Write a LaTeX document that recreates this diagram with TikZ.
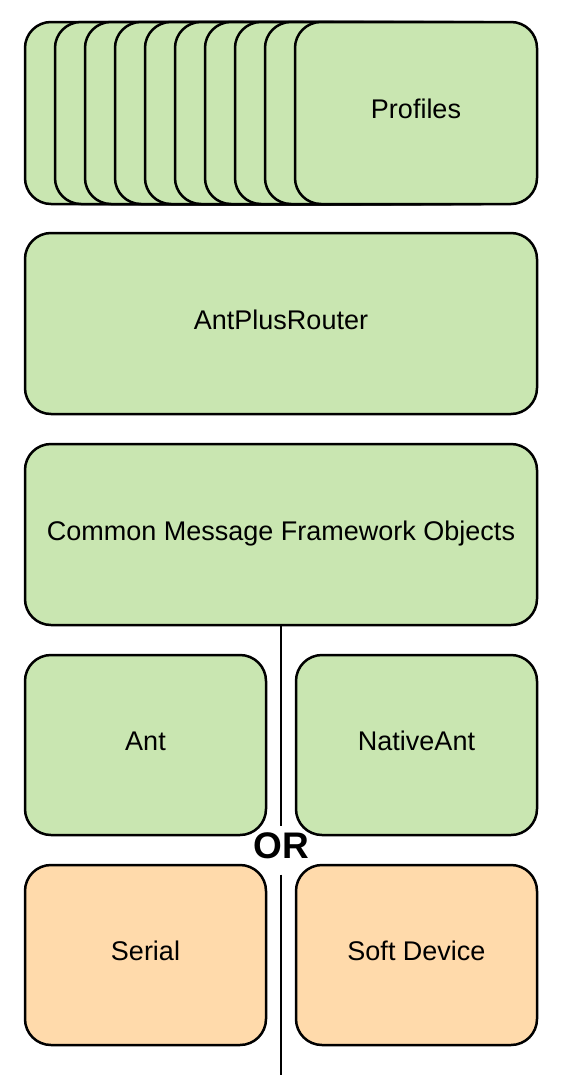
\documentclass[tikz,border=0pt]{standalone}
\usepackage{fontspec}
\setmainfont{Liberation Sans}
\definecolor{greenfill}{HTML}{C9E6B1}
\definecolor{orangefill}{HTML}{FFDAAB}

\begin{document}
\begin{tikzpicture}[
		x=1pt,
		y=-1pt,
		layer/.style={draw=black, line width=2.5pt, rounded corners=26pt, fill=greenfill, inner sep=0pt, text depth=8pt, font=\fontsize{27}{32}\selectfont},
		driver/.style={layer, fill=orangefill}
	]

		\useasboundingbox (0,0) rectangle (560,1092);

		% Profile stack
		\foreach \i in {0,...,8}
			\node [layer, minimum width=242, minimum height=182] (card\i) at (146+30*\i,113) {};
		\node [layer, minimum width=242, minimum height=182] (profiles) at (416,113) {Profiles};

		% Router and message layer
		\node [layer, minimum width=512, minimum height=181] (router) at (281,323.5) {AntPlusRouter};
		\node [layer, minimum width=512, minimum height=181] (cmfo) at (281,534.5) {Common Message Framework Objects};

		% Ant interfaces
		\node [layer, minimum width=241, minimum height=180] (ant) at (145.5,745) {Ant};
		\node [layer, minimum width=241, minimum height=180] (nativeant) at (416.5,745) {NativeAnt};

		% Transports
		\node [driver, minimum width=241, minimum height=180] (serial) at (145.5,955) {Serial};
		\node [driver, minimum width=241, minimum height=180] (softdevice) at (416.5,955) {Soft Device};

		% Divider
		\node [anchor=base, font=\fontsize{37}{40}\selectfont\bfseries, inner xsep=0pt, inner ysep=5.5pt, text depth=11pt] (or) at (281,858) {OR};
		\coordinate (tail) at (281,1075);
		\draw [line width=2.5pt] (cmfo.south) -- (or.north);
		\draw [line width=2.5pt] (or.south) -- (tail);
	\end{tikzpicture}
\end{document}
